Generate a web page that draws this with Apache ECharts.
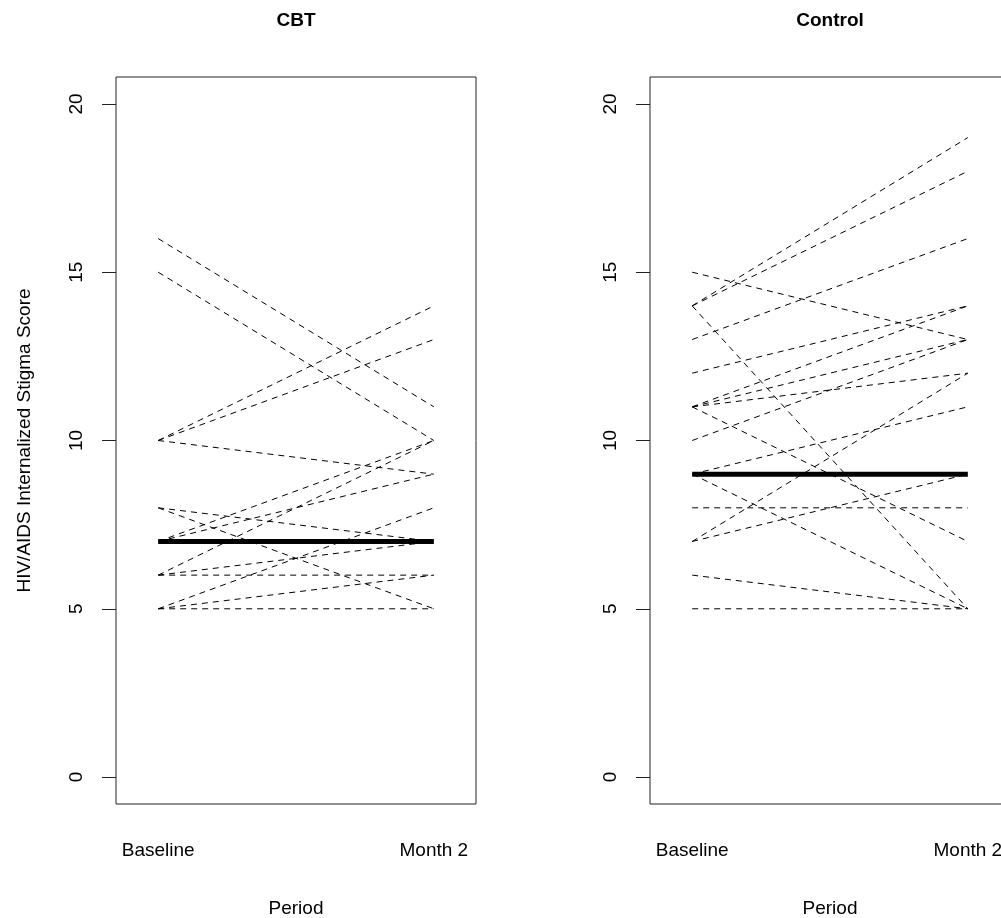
<!DOCTYPE html>
<html>
<head>
<meta charset="utf-8">
<script src="https://cdn.jsdelivr.net/npm/echarts@6/dist/echarts.min.js"></script>
<style>
html,body{margin:0;padding:0;background:#fff;}
#chart{width:1001px;height:918px;}
</style>
</head>
<body>
<div id="chart"></div>
<script>
var periods = ['Baseline', 'Month 2'];
var yTicks = [0, 5, 10, 15, 20];
var panelTitles = ['CBT', 'Control'];

var cbtBaseline = [16, 15, 10, 10, 10, 8, 8, 7, 7, 6, 6, 6, 5, 5, 5];
var cbtMonth2   = [11, 10, 14, 13, 9, 7, 5, 10, 9, 10, 7, 6, 8, 6, 5];
var cbtMedian   = [7, 7];

var ctrlBaseline = [15, 14, 14, 14, 13, 12, 11, 11, 11, 11, 10, 9, 9, 8, 7, 7, 6, 5];
var ctrlMonth2   = [13, 19, 18, 5, 16, 14, 14, 13, 12, 7, 13, 11, 5, 8, 12, 9, 5, 5];
var ctrlMedian   = [9, 9];

var FONT = 'Liberation Sans, Arial, sans-serif';
var chart = echarts.init(document.getElementById('chart'), null, {renderer: 'canvas'});

function spaghetti(base, m2, idx) {
  var out = [];
  for (var i = 0; i < base.length; i++) {
    out.push({
      type: 'line', xAxisIndex: idx, yAxisIndex: idx,
      data: [[1, base[i]], [2, m2[i]]],
      symbol: 'none', silent: true, z: 2, clip: false,
      lineStyle: {color: '#000', width: 1, type: [6, 5]}
    });
  }
  return out;
}
function median(med, idx) {
  return {
    type: 'line', xAxisIndex: idx, yAxisIndex: idx,
    data: [[1, med[0]], [2, med[1]]],
    symbol: 'none', silent: true, z: 3, clip: false,
    lineStyle: {color: '#000', width: 5, type: 'solid', cap: 'butt'}
  };
}

var lefts = [116, 650];
var grids = [], xAxes = [], yAxes = [], titles = [];
for (var k = 0; k < 2; k++) {
  grids.push({left: lefts[k], top: 77, width: 360, height: 727, show: true,
    borderColor: '#222', borderWidth: 1, backgroundColor: 'transparent',
    containLabel: false, outerBoundsMode: 'none'});
  xAxes.push({
    type: 'value', gridIndex: k, min: 0.847, max: 2.153,
    name: 'Period', nameLocation: 'middle', nameGap: 95,
    nameTextStyle: {fontFamily: FONT, fontSize: 19, color: '#000'},
    axisLine: {show: false}, axisTick: {show: false}, splitLine: {show: false},
    axisLabel: {customValues: [1, 2], margin: 37, fontFamily: FONT, fontSize: 19, color: '#000',
      formatter: function (v) { return periods[Math.round(v) - 1]; }}
  });
  yAxes.push({
    type: 'value', gridIndex: k, min: -0.8, max: 20.8,
    name: k === 0 ? 'HIV/AIDS Internalized Stigma Score' : '',
    nameLocation: 'middle', nameGap: 82, nameRotate: 90,
    nameTextStyle: {fontFamily: FONT, fontSize: 19, color: '#000'},
    axisLine: {show: false}, splitLine: {show: false},
    axisTick: {show: true, customValues: yTicks, length: 14, inside: false, lineStyle: {color: '#222', width: 1}},
    axisLabel: {customValues: yTicks, rotate: 90, margin: 30, fontFamily: FONT, fontSize: 19, color: '#000'}
  });
  titles.push({text: panelTitles[k], left: lefts[k] + 180, top: 11, textAlign: 'center', padding: 0,
    textStyle: {fontFamily: FONT, fontSize: 19, fontWeight: 'bold', color: '#000'}});
}

var series = [].concat(
  spaghetti(cbtBaseline, cbtMonth2, 0), [median(cbtMedian, 0)],
  spaghetti(ctrlBaseline, ctrlMonth2, 1), [median(ctrlMedian, 1)]
);

chart.setOption({
  animation: false,
  backgroundColor: '#fff',
  title: titles,
  grid: grids,
  xAxis: xAxes,
  yAxis: yAxes,
  series: series
});
</script>
</body>
</html>
